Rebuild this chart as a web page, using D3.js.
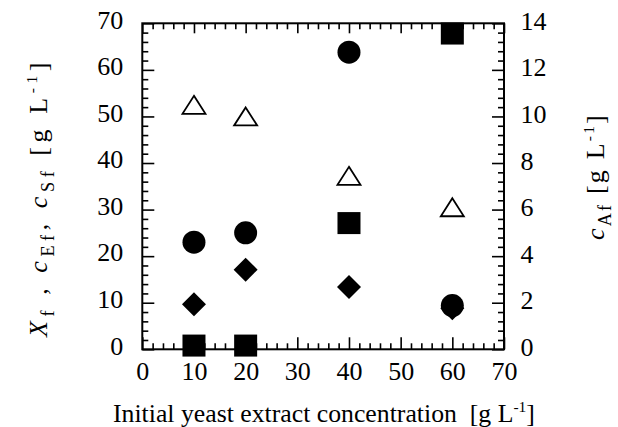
<!DOCTYPE html>
<html>
<head>
<meta charset="utf-8">
<script src="https://cdn.jsdelivr.net/npm/d3@7"></script>
</head>
<body style="margin:0; background:#fff">
<div id="chart"></div>
<script>
// data
var yeastExtract = [10, 20, 40, 60];
var xf  = [23.0, 25.0, 63.8, 9.4];      // filled circles, left axis
var cEf = [9.7, 17.1, 13.4, 8.8];       // filled diamonds, left axis
var cSf = [0.8, 0.8, 27.1, 67.8];       // filled squares, left axis
var cAf = [10.5, 10.0, 7.45, 6.1];      // open triangles, right axis
var xTicks = [0, 10, 20, 30, 40, 50, 60, 70];
var yLeftTicks = [0, 10, 20, 30, 40, 50, 60, 70];
var yRightTicks = [0, 2, 4, 6, 8, 10, 12, 14];

var fontName = "Liberation Serif";
// the serif face only renders up to ~26px in this setup
var maxSize = 26;

var W = 618, H = 427;
var margin = { top: 23.3, right: 114, bottom: 77.7, left: 142.3 },
    width = W - margin.left - margin.right,
    height = H - margin.top - margin.bottom;

var svg = d3.select("#chart")
    .append("svg")
    .attr("width", W)
    .attr("height", H)
    .style("display", "block");

var g = svg.append("g")
    .attr("transform", "translate(" + margin.left + "," + margin.top + ")");

var x = d3.scaleLinear().domain([0, 70]).range([0, width]);
var y = d3.scaleLinear().domain([0, 70]).range([height, 0]);
var y2 = d3.scaleLinear().domain([0, 14]).range([height, 0]);

var minorX = d3.range(0, 70.01, 2).filter(function (d) { return d % 10 !== 0; });
var minorY2 = d3.range(0, 14.01, 0.4).filter(function (d) { return Math.abs(d / 2 - Math.round(d / 2)) > 1e-6; });

function tickAxis(axis, values, len) {
    return axis.tickValues(values).tickSize(-len).tickFormat("");
}

function styleTicks(sel) {
    sel.attr("font-family", null).attr("font-size", null);
    sel.select(".domain").remove();
    sel.selectAll("line").attr("stroke", "#000").attr("stroke-width", 1.6);
}

function placeLabels(sel, dx, dy) {
    sel.selectAll("text")
        .attr("x", dx).attr("y", dy).attr("dy", 0)
        .attr("font-size", maxSize)
        .attr("fill", "#000")
        .style("font-family", fontName);
}

// bottom
g.append("g").attr("transform", "translate(0," + height + ")")
    .call(tickAxis(d3.axisBottom(x), minorX, 6)).call(styleTicks);
var bx = g.append("g").attr("transform", "translate(0," + height + ")")
    .call(d3.axisBottom(x).tickValues(xTicks).tickSize(-12));
styleTicks(bx);
placeLabels(bx, 0, 31);

// top
g.append("g").call(tickAxis(d3.axisTop(x), minorX, 6)).call(styleTicks);
g.append("g").call(tickAxis(d3.axisTop(x), xTicks, 10)).call(styleTicks);

// left
g.append("g").call(tickAxis(d3.axisLeft(y), minorX, 6)).call(styleTicks);
var ly = g.append("g").call(d3.axisLeft(y).tickValues(yLeftTicks).tickSize(-12));
styleTicks(ly);
placeLabels(ly, -19, 4.8);

// right
g.append("g").attr("transform", "translate(" + width + ",0)")
    .call(tickAxis(d3.axisRight(y2), minorY2, 6)).call(styleTicks);
var ry = g.append("g").attr("transform", "translate(" + width + ",0)")
    .call(d3.axisRight(y2).tickValues(yRightTicks).tickSize(-12));
styleTicks(ry);
placeLabels(ry, 16.5, 6);

// frame
g.append("rect")
    .attr("width", width).attr("height", height)
    .attr("fill", "none").attr("stroke", "#000").attr("stroke-width", 2);

/* markers */
var pts = function (vals) {
    return yeastExtract.map(function (d, i) { return { x: d, v: vals[i] }; });
};

// triangles (right axis)
g.append("g").selectAll("path")
    .data(pts(cAf)).enter().append("path")
    .attr("d", "M0,-9 L11.5,9 L-11.5,9 Z")
    .attr("transform", function (d) { return "translate(" + x(d.x) + "," + y2(d.v) + ")"; })
    .attr("fill", "#fff").attr("stroke", "#000").attr("stroke-width", 1.8);

// diamonds
g.append("g").selectAll("path")
    .data(pts(cEf)).enter().append("path")
    .attr("d", "M0,-12 L12,0 L0,12 L-12,0 Z")
    .attr("transform", function (d) { return "translate(" + x(d.x) + "," + y(d.v) + ")"; })
    .attr("fill", "#000");

// circles
g.append("g").selectAll("circle")
    .data(pts(xf)).enter().append("circle")
    .attr("cx", function (d) { return x(d.x); })
    .attr("cy", function (d) { return y(d.v); })
    .attr("r", 11.5)
    .attr("fill", "#000");

// squares
g.append("g").selectAll("rect")
    .data(pts(cSf)).enter().append("rect")
    .attr("x", function (d) { return x(d.x) - 11.5; })
    .attr("y", function (d) { return y(d.v) - 11; })
    .attr("width", 23).attr("height", 22)
    .attr("fill", "#000");

/* titles: sized to the length they have in the picture, capped at maxSize;
   any length still missing is spread out as letter spacing */
function title(transform, len) {
    var t = svg.append("text")
        .attr("transform", transform)
        .attr("font-size", 20)
        .attr("fill", "#000")
        .style("font-family", fontName);
    t.fit = function () {
        var w = t.node().getComputedTextLength();
        var fs = Math.min(maxSize, 20 * len / w);
        t.attr("font-size", fs);
        var w2 = t.node().getComputedTextLength();
        var n = t.text().length;
        if (len - w2 > 1) t.attr("letter-spacing", (len - w2) / n);
        return t;
    };
    return t;
}

var xt = title("translate(113,422)", 422);
xt.append("tspan").text("Initial yeast extract concentration\u00a0\u00a0[g\u00a0L");
xt.append("tspan").attr("font-size", "0.6em").attr("dy", "-0.65em").text("-1");
xt.append("tspan").attr("dy", "0.39em").text("]");
xt.fit();

var lt = title("translate(47,337) rotate(-90)", 279);
lt.append("tspan").attr("font-style", "italic").text("X");
lt.append("tspan").attr("font-size", "0.7em").attr("dy", "0.4em").text("f");
lt.append("tspan").attr("dy", "-0.28em").text(" , ");
lt.append("tspan").attr("font-style", "italic").text("c");
lt.append("tspan").attr("font-size", "0.7em").attr("dy", "0.4em").text("Ef");
lt.append("tspan").attr("dy", "-0.28em").text(", ");
lt.append("tspan").attr("font-style", "italic").text("c");
lt.append("tspan").attr("font-size", "0.7em").attr("dy", "0.4em").text("Sf");
lt.append("tspan").attr("dy", "-0.28em").text("\u00a0[g\u00a0L");
lt.append("tspan").attr("font-size", "0.6em").attr("dy", "-0.65em").text("-1");
lt.append("tspan").attr("dy", "0.39em").text("]");
lt.fit();

var rt = title("translate(604,240) rotate(-90)", 127);
rt.append("tspan").attr("font-style", "italic").text("c");
rt.append("tspan").attr("font-size", "0.7em").attr("dy", "0.4em").text("Af");
rt.append("tspan").attr("dy", "-0.28em").text("\u00a0[g\u00a0L");
rt.append("tspan").attr("font-size", "0.6em").attr("dy", "-0.65em").text("-1");
rt.append("tspan").attr("dy", "0.39em").text("]");
rt.fit();
</script>
</body>
</html>
